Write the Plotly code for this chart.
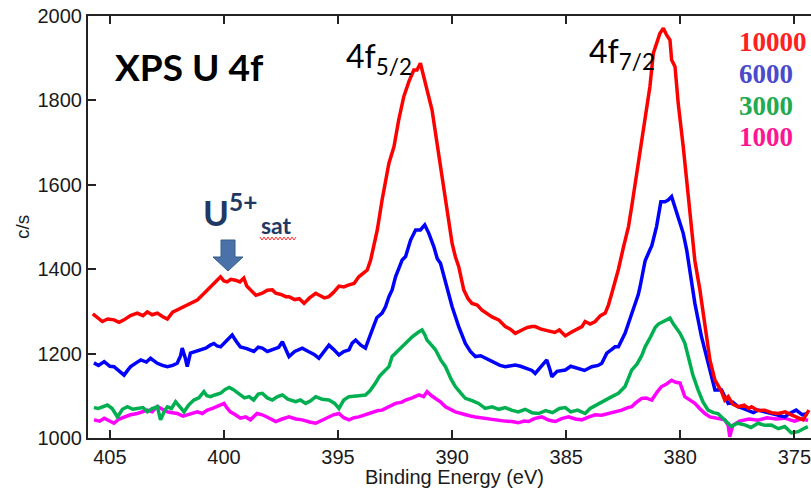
import plotly.graph_objects as go

# ---------------- data ----------------
red_e = [405.75,405.55,405.33,405.1,404.82,404.6,404.38,404.1,403.8,403.55,403.36,403.15,402.92,402.7,402.48,402.25,402.05,401.8,401.61,401.4,401.17,401.0,400.88,400.7,400.52,400.3,400.15,400.0,399.86,399.7,399.5,399.3,399.13,399.0,398.84,398.6,398.32,398.1,397.88,397.73,397.5,397.29,397.15,396.9,396.7,396.49,396.25,395.98,395.84,395.6,395.4,395.2,394.96,394.75,394.52,394.3,394.09,393.9,393.72,393.57,393.45,393.28,393.07,392.9,392.77,392.55,392.34,392.12,391.9,391.68,391.54,391.39,391.17,390.88,390.66,390.44,390.22,390.0,389.86,389.71,389.49,389.3,389.13,388.9,388.69,388.45,388.25,387.96,387.67,387.45,387.23,386.94,386.7,386.5,386.36,386.1,385.77,385.5,385.3,385.04,384.8,384.61,384.31,384.17,383.95,383.73,383.5,383.29,383.15,383.0,382.85,382.71,382.5,382.27,382.13,381.98,381.84,381.7,381.54,381.33,381.18,381.04,380.89,380.74,380.6,380.45,380.38,380.23,380.09,379.87,379.72,379.58,379.45,379.36,379.14,378.92,378.7,378.48,378.3,378.19,378.05,377.9,377.7,377.46,377.2,377.0,376.88,376.6,376.3,376.0,375.71,375.4,375.13,374.9,374.62,374.36]
red_c = [1294,1285,1276,1282,1280,1274,1280,1290,1296,1290,1299,1292,1296,1288,1282,1298,1303,1310,1315,1320,1327,1336,1343,1352,1363,1374,1382,1372,1370,1376,1374,1370,1379,1360,1351,1338,1343,1350,1351,1343,1340,1335,1335,1328,1330,1319,1332,1343,1339,1332,1335,1345,1360,1358,1363,1366,1382,1390,1398,1422,1450,1493,1564,1610,1651,1690,1754,1809,1844,1872,1872,1888,1841,1777,1698,1619,1548,1461,1430,1406,1351,1330,1319,1315,1303,1295,1287,1280,1264,1258,1248,1256,1262,1264,1264,1258,1254,1250,1256,1242,1250,1256,1264,1276,1270,1276,1290,1296,1315,1343,1370,1400,1450,1501,1548,1600,1659,1705,1754,1833,1912,1935,1959,1971,1955,1943,1896,1880,1793,1690,1611,1532,1470,1420,1351,1272,1185,1137,1118,1110,1090,1098,1080,1074,1078,1070,1074,1065,1066,1060,1058,1062,1055,1050,1043,1066]

blue_e = [405.7,405.5,405.25,405.0,404.82,404.6,404.38,404.2,404.09,403.85,403.65,403.4,403.22,403.05,402.92,402.7,402.48,402.25,402.05,401.9,401.83,401.7,401.61,401.47,401.25,401.03,400.8,400.6,400.44,400.3,400.15,399.9,399.76,399.64,399.45,399.28,399.0,398.69,398.5,398.32,398.1,397.88,397.6,397.44,397.3,397.15,396.9,396.57,396.3,396.05,395.84,395.6,395.4,395.2,394.96,394.75,394.52,394.38,394.23,394.0,393.8,393.65,393.5,393.3,393.07,392.92,392.77,392.63,392.48,392.3,392.19,392.04,391.9,391.82,391.6,391.39,391.2,391.02,390.8,390.65,390.51,390.29,390.0,389.71,389.42,389.2,388.98,388.75,388.54,388.3,388.1,387.9,387.67,387.45,387.23,387.0,386.7,386.5,386.36,386.1,385.85,385.7,385.63,385.4,385.04,384.8,384.46,384.2,383.88,383.6,383.44,383.22,383.0,382.86,382.71,382.49,382.42,382.27,382.06,381.84,381.76,381.54,381.33,381.25,381.04,380.85,380.67,380.53,380.38,380.16,380.0,379.87,379.72,379.58,379.36,379.07,378.78,378.48,378.19,377.9,377.7,377.46,377.25,377.03,376.8,376.59,376.3,376.01,375.7,375.42,375.15,374.92,374.65,374.41]
blue_c = [1178,1172,1181,1170,1169,1160,1149,1162,1169,1178,1185,1180,1189,1182,1177,1172,1169,1172,1177,1195,1213,1190,1169,1201,1205,1209,1213,1220,1224,1218,1216,1230,1238,1244,1228,1216,1212,1205,1215,1213,1205,1209,1215,1228,1210,1193,1205,1213,1205,1198,1189,1205,1220,1210,1197,1205,1209,1225,1232,1220,1213,1235,1256,1285,1296,1311,1335,1351,1382,1410,1422,1430,1460,1469,1493,1493,1505,1485,1453,1425,1414,1367,1311,1264,1224,1205,1193,1195,1189,1182,1177,1172,1169,1172,1173,1170,1165,1160,1153,1170,1185,1160,1145,1158,1161,1170,1165,1160,1169,1172,1177,1201,1210,1216,1216,1240,1248,1272,1305,1340,1359,1420,1446,1455,1501,1560,1560,1564,1572,1532,1505,1485,1446,1398,1319,1240,1177,1114,1114,1082,1085,1074,1070,1066,1060,1066,1062,1058,1055,1050,1060,1066,1055,1058]

green_e = [405.7,405.5,405.11,404.9,404.67,404.45,404.23,404.0,403.8,403.55,403.36,403.15,402.92,402.78,402.6,402.48,402.3,402.12,401.95,401.75,401.55,401.32,401.1,400.88,400.75,400.59,400.4,400.15,399.95,399.77,399.6,399.45,399.28,399.1,398.9,398.7,398.5,398.32,398.1,397.88,397.65,397.44,397.2,396.86,396.65,396.42,396.2,395.98,395.7,395.4,395.15,394.96,394.75,394.52,394.38,394.1,393.8,393.6,393.36,393.2,393.07,392.92,392.77,392.63,392.4,392.19,391.95,391.75,391.5,391.32,391.2,391.1,390.9,390.73,390.5,390.29,390.05,389.86,389.6,389.42,389.1,388.84,388.55,388.25,387.95,387.67,387.4,387.1,386.8,386.5,386.21,385.9,385.6,385.3,385.04,384.8,384.5,384.17,383.95,383.7,383.45,383.29,383.0,382.71,382.42,382.13,381.9,381.69,381.54,381.3,381.1,380.96,380.7,380.45,380.3,380.01,379.8,379.65,379.45,379.22,379.0,378.78,378.55,378.35,378.1,377.9,377.76,377.5,377.18,376.9,376.59,376.3,376.01,375.7,375.42,375.13,374.84,374.6,374.41]
green_c = [1072,1070,1078,1070,1050,1068,1074,1068,1070,1072,1062,1070,1074,1043,1065,1074,1070,1086,1075,1062,1078,1090,1095,1110,1100,1098,1102,1106,1115,1120,1115,1108,1102,1095,1098,1090,1104,1106,1095,1090,1098,1102,1092,1086,1090,1082,1088,1098,1092,1090,1082,1070,1090,1098,1098,1100,1102,1112,1130,1145,1153,1161,1169,1193,1205,1216,1228,1240,1250,1256,1245,1232,1220,1209,1185,1169,1140,1122,1105,1094,1088,1082,1070,1074,1068,1072,1066,1062,1068,1060,1058,1065,1060,1070,1072,1062,1066,1058,1070,1078,1085,1090,1098,1106,1122,1161,1175,1195,1216,1240,1262,1270,1278,1284,1270,1248,1225,1190,1150,1114,1085,1066,1060,1058,1045,1035,1027,1035,1031,1025,1035,1030,1031,1022,1027,1012,1015,1022,1027]

mag_e = [405.7,405.45,405.25,405.0,404.82,404.6,404.38,404.1,403.8,403.6,403.36,403.15,402.92,402.7,402.48,402.25,402.05,401.8,401.61,401.4,401.17,400.95,400.73,400.5,400.3,400.0,399.85,399.72,399.5,399.28,399.05,398.84,398.55,398.32,398.05,397.73,397.45,397.15,396.85,396.57,396.25,395.98,395.7,395.4,395.2,394.96,394.75,394.52,394.3,394.09,393.8,393.5,393.25,393.07,392.77,392.48,392.2,392.04,391.75,391.46,391.25,391.1,390.9,390.73,390.5,390.29,390.05,389.86,389.6,389.42,389.2,388.98,388.75,388.54,388.25,387.96,387.7,387.38,387.1,386.85,386.65,386.4,386.07,385.75,385.48,385.2,384.9,384.6,384.32,384.0,383.73,383.45,383.15,382.9,382.57,382.3,382.13,381.98,381.69,381.5,381.25,381.0,380.82,380.6,380.38,380.2,380.01,379.8,379.6,379.36,379.15,378.92,378.7,378.48,378.25,378.05,377.9,377.83,377.7,377.4,377.0,376.6,376.2,375.8,375.42,375.0,374.7,374.4]
mag_c = [1043,1040,1047,1040,1035,1045,1050,1055,1058,1062,1066,1062,1075,1068,1062,1060,1058,1052,1055,1060,1062,1058,1066,1070,1074,1082,1070,1062,1055,1047,1050,1043,1058,1055,1048,1039,1045,1050,1045,1043,1038,1035,1042,1050,1055,1058,1048,1043,1048,1050,1055,1062,1065,1066,1074,1082,1085,1090,1095,1102,1098,1110,1100,1094,1085,1074,1068,1062,1058,1055,1052,1050,1048,1047,1044,1043,1040,1039,1036,1040,1039,1046,1050,1042,1039,1046,1050,1045,1043,1050,1055,1054,1058,1060,1066,1072,1074,1082,1094,1095,1090,1110,1122,1128,1137,1132,1130,1098,1090,1082,1070,1058,1050,1047,1045,1043,1030,1003,1030,1040,1045,1042,1048,1045,1047,1040,1045,1042]

legend_labels = ["10000", "6000", "3000", "1000"]
x_ticks = [405, 400, 395, 390, 385, 380, 375]
y_ticks = [1000, 1200, 1400, 1600, 1800, 2000]

# ---------------- figure ----------------
W, H = 811, 492
L, R, T, B = 88, 0, 16, 54
PW, PH = W - L - R, H - T - B


def px(x):
    return (x - L) / PW


def py(y):
    return (H - B - y) / PH


fig = go.Figure()
series = [
    (mag_e, mag_c, "#ff00ff"),
    (green_e, green_c, "#00b050"),
    (blue_e, blue_c, "#0000ff"),
    (red_e, red_c, "#ff0000"),
]
for xe, yc, col in series:
    fig.add_trace(go.Scatter(x=xe, y=yc, mode="lines",
                             line=dict(color=col, width=3.5), showlegend=False,
                             hoverinfo="skip"))

tickfont = dict(family="Liberation Sans, Arial, sans-serif", size=20, color="#1a1a1a")
fig.update_layout(
    width=W, height=H,
    margin=dict(l=L, r=R, t=T, b=B, pad=0),
    plot_bgcolor="white", paper_bgcolor="white",
    xaxis=dict(range=[405.96, 374.27], tickvals=x_ticks, ticktext=[str(v) for v in x_ticks],
               ticks="inside", ticklen=8, tickwidth=1.5, tickcolor="#222",
               showline=True, linecolor="#222", linewidth=2, mirror="ticks",
               showgrid=False, zeroline=False, tickfont=tickfont,
               ticklabeloverflow="allow"),
    yaxis=dict(range=[1000, 2000], tickvals=y_ticks, ticktext=[str(v) for v in y_ticks],
               ticks="inside", ticklen=8, tickwidth=1.5, tickcolor="#222",
               showline=True, linecolor="#222", linewidth=2, mirror=False,
               showgrid=False, zeroline=False, tickfont=tickfont,
               ticklabeloverflow="allow"),
)

ann = []
# axis titles
ann.append(dict(text="Binding Energy (eV)", x=px(454), y=py(477), xref="paper", yref="paper",
                showarrow=False, xanchor="center", yanchor="middle",
                font=dict(family="Liberation Sans, Arial, sans-serif", size=20, color="#1a1a1a")))
ann.append(dict(text="c/s", x=px(22), y=py(227), xref="paper", yref="paper", textangle=-90,
                showarrow=False, xanchor="center", yanchor="middle",
                font=dict(family="Liberation Sans, Arial, sans-serif", size=19, color="#1a1a1a")))
# title
ann.append(dict(text="<b>XPS U 4f</b>", x=px(113), y=py(67), xref="paper", yref="paper",
                showarrow=False, xanchor="left", yanchor="middle",
                font=dict(family="Lato, sans-serif", size=37, color="#000000")))
# peak labels
ann.append(dict(text="4f<sub>5/2</sub>", x=px(344), y=py(58), xref="paper", yref="paper",
                showarrow=False, xanchor="left", yanchor="middle",
                font=dict(family="Lato, sans-serif", size=32, color="#000000")))
ann.append(dict(text="4f<sub>7/2</sub>", x=px(587), y=py(53), xref="paper", yref="paper",
                showarrow=False, xanchor="left", yanchor="middle",
                font=dict(family="Lato, sans-serif", size=32, color="#000000")))
# U5+ sat
ann.append(dict(text="<b>U<sup>5+</sup></b>", x=px(201), y=py(210), xref="paper", yref="paper",
                showarrow=False, xanchor="left", yanchor="middle",
                font=dict(family="Lato, sans-serif", size=35, color="#1f3864")))
ann.append(dict(text="<b>sat</b>", x=px(259), y=py(225), xref="paper", yref="paper",
                showarrow=False, xanchor="left", yanchor="middle",
                font=dict(family="Lato, sans-serif", size=23, color="#1f3864")))
# legend-like labels
leg_cols = ["#ff2020", "#4a4acc", "#22aa50", "#ff1493"]
leg_y = [42, 74, 106, 137]
for lab, col, yy in zip(legend_labels, leg_cols, leg_y):
    ann.append(dict(text="<b>" + lab + "</b>", x=px(737), y=py(yy), xref="paper", yref="paper",
                    showarrow=False, xanchor="left", yanchor="middle",
                    font=dict(family="Liberation Serif, Times New Roman, serif", size=27, color=col)))
fig.update_layout(annotations=ann)

# block arrow
pts = [(221, 240), (235, 240), (235, 257), (243, 257), (228, 271), (213, 257), (221, 257)]
path = "M " + " L ".join(f"{px(a):.5f},{py(b):.5f}" for a, b in pts) + " Z"
fig.add_shape(type="path", path=path, xref="paper", yref="paper",
              fillcolor="#4a72a8", line=dict(color="#385d8a", width=1))
# red wavy spell-check underline
wav = [(260 + 2 * i, 237 if i % 2 == 0 else 240) for i in range(19)]
wpath = "M " + " L ".join(f"{px(a):.5f},{py(b):.5f}" for a, b in wav)
fig.add_shape(type="path", path=wpath, xref="paper", yref="paper",
              line=dict(color="#ff3030", width=1))

fig.write_html("out.html")
